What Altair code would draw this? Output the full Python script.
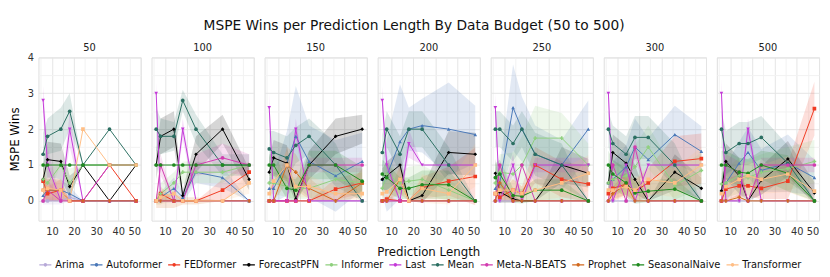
import altair as alt
import pandas as pd

pred_lengths = [6, 8, 14, 18, 24, 36, 48]
budgets = [50, 100, 150, 200, 250, 300, 500]
models = ["Arima", "Autoformer", "FEDformer", "ForecastPFN", "Informer", "Last",
          "Mean", "Meta-N-BEATS", "Prophet", "SeasonalNaive", "Transformer"]
colors = ["#b7a9d8", "#4a78b8", "#f03a22", "#000000", "#8fd07e", "#c43ad8",
          "#2b6f62", "#d23cb0", "#d2691e", "#1f8a1f", "#ffbe85"]
shapes = ["circle", "triangle-up", "square", "diamond", "cross", "triangle-down",
          "circle", "circle", "cross", "circle", "square"]

# mean MSPE wins per model, one list per prediction length order above
mean_50 = {
    "Arima": [0, 0, 0, 0.1, 0, 0, 0],
    "Autoformer": [0.15, 0.3, 0.3, 0.2, 0, 0, 0],
    "FEDformer": [0.55, 0.2, 0.3, 0, 0, 1, 0],
    "ForecastPFN": [0.6, 1.15, 1.1, 0.4, 1, 0, 1],
    "Informer": [0.6, 0.5, 1, 0.5, 1, 1, 1],
    "Last": [2.8, 1, 0, 2, 0, 1, 1],
    "Mean": [1.3, 1.8, 2, 2.5, 1, 2, 1],
    "Meta-N-BEATS": [0, 0.3, 0, 0, 0, 0, 0],
    "Prophet": [0.3, 0.3, 0.3, 0, 0, 0, 0],
    "SeasonalNaive": [1, 1, 1, 1, 1, 1, 1],
    "Transformer": [0.3, 0.35, 0.3, 0, 2, 1, 1],
}
ci_50 = {
    "Arima": [0.1, 0.1, 0.1, 0.1, 0, 0, 0],
    "Autoformer": [0.2, 0.3, 0.3, 0.2, 0, 0, 0],
    "FEDformer": [0.4, 0.2, 0.3, 0, 0, 0, 0],
    "ForecastPFN": [0.4, 0.5, 0.5, 0.3, 0, 0, 0],
    "Informer": [0.5, 0.4, 0, 0.4, 0, 0, 0],
    "Last": [0.4, 0.5, 0, 0.5, 0, 0, 0],
    "Mean": [0.6, 0.5, 0.6, 0.5, 0, 0, 0],
    "Meta-N-BEATS": [0, 0.3, 0, 0, 0, 0, 0],
    "Prophet": [0.3, 0.3, 0.3, 0, 0, 0, 0],
    "SeasonalNaive": [0, 0, 0, 0, 0, 0, 0],
    "Transformer": [0.3, 0.3, 0.3, 0, 0, 0, 0],
}
mean_100 = {
    "Arima": [0, 0, 0, 0, 0, 0, 0],
    "Autoformer": [0, 0.1, 0.35, 0.1, 0.8, 0.65, 0],
    "FEDformer": [0, 0.2, 0, 0, 0, 0.3, 0.8],
    "ForecastPFN": [1, 1.8, 2, 0.15, 1.3, 2, 0.6],
    "Informer": [0, 0.2, 0.5, 0.8, 0.8, 0.8, 1],
    "Last": [3, 0, 0, 2, 0, 0, 0],
    "Mean": [2, 1.8, 1.8, 2.8, 2, 1, 1],
    "Meta-N-BEATS": [0, 1, 0, 0, 1, 1.2, 1],
    "Prophet": [0, 0, 0, 0, 0, 0, 0],
    "SeasonalNaive": [1, 1, 1, 1, 1, 1, 1],
    "Transformer": [0, 0.1, 0.2, 0, 0, 0, 0.5],
}
ci_100 = {
    "Arima": [0.05, 0.05, 0.05, 0.05, 0, 0, 0],
    "Autoformer": [0, 0.15, 0.3, 0.15, 0.3, 0.3, 0],
    "FEDformer": [0, 0.2, 0, 0, 0, 0.3, 0.3],
    "ForecastPFN": [0.4, 0.5, 0.5, 0.15, 0.5, 0.4, 0.3],
    "Informer": [0.1, 0.3, 0.3, 0.3, 0.3, 0.3, 0],
    "Last": [0.3, 0, 0, 0.3, 0, 0, 0],
    "Mean": [0.6, 0.5, 0.4, 0.3, 0.4, 0.3, 0.3],
    "Meta-N-BEATS": [0, 0.3, 0, 0, 0.3, 0.4, 0.3],
    "Prophet": [0.2, 0.2, 0.2, 0.1, 0.1, 0, 0],
    "SeasonalNaive": [0, 0, 0, 0, 0, 0, 0],
    "Transformer": [0.1, 0.2, 0.2, 0, 0, 0, 0.3],
}
mean_150 = {
    "Arima": [0, 0, 0, 0, 0, 0, 0],
    "Autoformer": [0.35, 0.35, 1.05, 1.8, 1.1, 0.7, 1.1],
    "FEDformer": [0, 0, 0, 0, 0, 0.33, 0.5],
    "ForecastPFN": [0.8, 1.2, 1.05, 0.05, 1, 1.8, 2],
    "Informer": [0.5, 0.5, 0.4, 0.35, 0.35, 0.6, 0.5],
    "Last": [2.6, 0, 0, 2, 0, 0, 0],
    "Mean": [1.45, 1.35, 1.2, 1.55, 1.8, 1, 0],
    "Meta-N-BEATS": [0, 0, 0, 0, 1, 1, 1],
    "Prophet": [0, 0, 1, 0.8, 0.35, 0, 0.5],
    "SeasonalNaive": [1, 1, 0.35, 0.3, 1, 1, 0.55],
    "Transformer": [0.2, 0.55, 1, 0.4, 0.4, 0.2, 0.2],
}
ci_150 = {
    "Arima": [0, 0, 0, 0, 0, 0, 0],
    "Autoformer": [0.3, 0.4, 0.9, 1.4, 1.0, 1.0, 0.8],
    "FEDformer": [0, 0, 0, 0, 0, 0.3, 0.3],
    "ForecastPFN": [0.4, 0.5, 0.5, 0.1, 0.4, 0.5, 0.4],
    "Informer": [0.3, 0.3, 0.3, 0.3, 0.3, 0.4, 0.4],
    "Last": [0.4, 0, 0, 0.3, 0, 0, 0],
    "Mean": [0.5, 0.6, 0.6, 0.5, 0.5, 0.6, 0],
    "Meta-N-BEATS": [0, 0, 0, 0, 0.2, 0.2, 0.2],
    "Prophet": [0, 0, 0.5, 0.5, 0.3, 0, 0.4],
    "SeasonalNaive": [0.3, 0.3, 0.3, 0.3, 0.4, 0.4, 0.4],
    "Transformer": [0.2, 0.3, 0.4, 0.3, 0.3, 0.2, 0.2],
}
mean_200 = {
    "Arima": [0, 0, 0, 0, 0, 0, 0],
    "Autoformer": [0.6, 0.7, 1.65, 2, 2.1, 2, 1.85],
    "FEDformer": [0, 0.05, 0, 0, 0.37, 0.55, 0.68],
    "ForecastPFN": [0.6, 0.7, 1, 0, 0.15, 1.35, 1.3],
    "Informer": [0.35, 0.75, 0.5, 0.55, 0.6, 0.3, 0],
    "Last": [2.8, 1, 0, 1.6, 1, 1, 1],
    "Mean": [1.35, 2, 1.3, 2, 2, 1, 0],
    "Meta-N-BEATS": [0, 0, 0, 0, 0, 0, 0],
    "Prophet": [0, 0, 0.6, 0, 0, 0, 0],
    "SeasonalNaive": [0.75, 0.65, 0.35, 0.35, 0.45, 0.45, 0],
    "Transformer": [0.2, 0.25, 0.6, 0, 0.35, 0.2, 1],
}
ci_200 = {
    "Arima": [0, 0, 0, 0, 0, 0, 0],
    "Autoformer": [0.4, 1.0, 1.6, 0.6, 0.75, 1.3, 0.8],
    "FEDformer": [0, 0.1, 0, 0, 0.3, 0.4, 0.8],
    "ForecastPFN": [0.3, 0.4, 0.4, 0, 0.2, 0.6, 0.6],
    "Informer": [0.3, 0.4, 0.3, 0.4, 0.4, 0.3, 0],
    "Last": [0.4, 0.3, 0, 0.4, 0, 0, 0],
    "Mean": [0.5, 0.5, 0.5, 0.5, 0.5, 0.5, 0],
    "Meta-N-BEATS": [0, 0, 0, 0, 0, 0, 0],
    "Prophet": [0, 0, 0.4, 0, 0, 0, 0],
    "SeasonalNaive": [0.4, 0.4, 0.3, 0.3, 0.4, 0.4, 0],
    "Transformer": [0.2, 0.3, 0.4, 0, 0.4, 0.3, 0.6],
}
mean_250 = {
    "Arima": [0, 0, 0, 0, 0, 0, 0],
    "Autoformer": [0.35, 0.5, 2.6, 2, 1.3, 1, 2],
    "FEDformer": [0.2, 0.1, 0.3, 0.2, 1, 0.6, 0.47],
    "ForecastPFN": [0.77, 0.25, 0.05, 0, 0, 1, 0.77],
    "Informer": [0.5, 0.8, 0.75, 1, 1.75, 1.75, 1],
    "Last": [2.6, 0, 1, 0, 1, 1, 1],
    "Mean": [2, 2, 1.6, 2, 1.3, 1, 0],
    "Meta-N-BEATS": [0, 1, 0, 1, 0, 0, 0],
    "Prophet": [0, 0.5, 0, 0, 0, 0, 0],
    "SeasonalNaive": [0.65, 0.75, 0.15, 0.13, 0.3, 0.3, 0],
    "Transformer": [0.2, 0.3, 0.3, 0.2, 0.3, 0.5, 0.77],
}
ci_250 = {
    "Arima": [0, 0, 0, 0, 0, 0, 0],
    "Autoformer": [0.3, 0.5, 1.2, 0.9, 0.8, 0.7, 0.8],
    "FEDformer": [0.2, 0.1, 0.3, 0.2, 0.5, 0.5, 0.5],
    "ForecastPFN": [0.4, 0.3, 0.1, 0, 0, 0.5, 0.4],
    "Informer": [0.4, 0.5, 0.6, 0.8, 0.9, 0.7, 0.6],
    "Last": [0.4, 0, 0.3, 0, 0.2, 0.2, 0.2],
    "Mean": [0.5, 0.5, 0.5, 0.5, 0.6, 0.6, 0],
    "Meta-N-BEATS": [0, 0, 0, 0, 0, 0, 0],
    "Prophet": [0, 0.3, 0, 0, 0, 0, 0],
    "SeasonalNaive": [0.4, 0.4, 0.2, 0.2, 0.3, 0.3, 0],
    "Transformer": [0.2, 0.3, 0.3, 0.2, 0.3, 0.4, 0.5],
}
mean_300 = {
    "Arima": [0, 0, 0, 0, 0, 0, 0],
    "Autoformer": [0.5, 0.6, 0.95, 1.5, 1.15, 1.85, 1.38],
    "FEDformer": [0.2, 0.35, 0.47, 0.27, 0.5, 1.1, 1.18],
    "ForecastPFN": [0.5, 1.35, 1.05, 0.6, 0, 0.8, 0.35],
    "Informer": [0.5, 0.6, 0.7, 0.95, 1.5, 0.43, 0.85],
    "Last": [3, 0, 1, 0, 1, 1, 1],
    "Mean": [2, 1.6, 1.3, 1.77, 1.77, 1, 0],
    "Meta-N-BEATS": [0, 1, 0, 1.5, 0, 0, 0],
    "Prophet": [0, 0.2, 0.47, 0, 0, 0, 0],
    "SeasonalNaive": [1, 0.75, 0.5, 0.22, 0.27, 0.33, 0],
    "Transformer": [0.3, 0.3, 0.4, 0.3, 0.6, 0.5, 1],
}
ci_300 = {
    "Arima": [0, 0, 0, 0, 0, 0, 0],
    "Autoformer": [0.3, 0.5, 0.6, 0.8, 0.6, 0.8, 0.7],
    "FEDformer": [0.2, 0.3, 0.3, 0.3, 0.4, 0.7, 0.7],
    "ForecastPFN": [0.3, 0.5, 0.5, 0.4, 0, 0.5, 0.3],
    "Informer": [0.3, 0.4, 0.5, 0.6, 0.6, 0.4, 0.5],
    "Last": [0.4, 0, 0.2, 0, 0, 0, 0],
    "Mean": [0.5, 0.5, 0.5, 0.6, 0.6, 0.6, 0],
    "Meta-N-BEATS": [0, 0, 0, 0.3, 0, 0, 0],
    "Prophet": [0, 0.2, 0.3, 0, 0, 0, 0],
    "SeasonalNaive": [0.4, 0.4, 0.4, 0.3, 0.3, 0.3, 0],
    "Transformer": [0.3, 0.3, 0.3, 0.3, 0.4, 0.4, 0.5],
}
mean_500 = {
    "Arima": [0, 0, 0, 0, 0, 0, 0],
    "Autoformer": [0.3, 0.5, 1.05, 1.35, 0.85, 1.05, 0.65],
    "FEDformer": [0, 0.33, 0.42, 0.42, 0.35, 0.55, 2.57],
    "ForecastPFN": [0.28, 1.1, 0.7, 0, 0.57, 1.17, 0.22],
    "Informer": [0.47, 0.5, 0.7, 0.65, 0.8, 0.9, 1.1],
    "Last": [3, 0, 0, 2, 0, 0, 0],
    "Mean": [2, 1.35, 1.6, 1.6, 1.77, 1.05, 0],
    "Meta-N-BEATS": [0, 1, 0.8, 0, 1, 1, 1],
    "Prophet": [0, 0, 0.1, 0, 0, 0, 0],
    "SeasonalNaive": [1, 1, 0.8, 0.77, 1, 0.77, 0],
    "Transformer": [0.2, 0.4, 0.6, 0.7, 0.6, 0.75, 0.27],
}
ci_500 = {
    "Arima": [0, 0, 0, 0, 0, 0, 0],
    "Autoformer": [0.3, 0.5, 0.6, 0.7, 0.6, 0.8, 0.5],
    "FEDformer": [0, 0.3, 0.3, 0.3, 0.3, 0.5, 0.75],
    "ForecastPFN": [0.3, 0.5, 0.5, 0, 0.4, 0.5, 0.3],
    "Informer": [0.3, 0.4, 0.5, 0.5, 0.5, 0.6, 0.6],
    "Last": [0.4, 0, 0, 0.3, 0, 0, 0],
    "Mean": [0.5, 0.6, 0.6, 0.6, 0.6, 0.5, 0],
    "Meta-N-BEATS": [0, 0.3, 0.3, 0, 0.2, 0.2, 0.2],
    "Prophet": [0, 0, 0.1, 0, 0, 0, 0],
    "SeasonalNaive": [0.4, 0.4, 0.4, 0.4, 0.4, 0.5, 0],
    "Transformer": [0.2, 0.3, 0.4, 0.4, 0.4, 0.5, 0.3],
}

means = {50: mean_50, 100: mean_100, 150: mean_150, 200: mean_200,
         250: mean_250, 300: mean_300, 500: mean_500}
cis = {50: ci_50, 100: ci_100, 150: ci_150, 200: ci_200,
       250: ci_250, 300: ci_300, 500: ci_500}

rows = []
for b in budgets:
    for k, m in enumerate(models):
        mu = means[b][m]
        c = cis[b][m]
        for i, x in enumerate(pred_lengths):
            rows.append({"budget": b, "model": m, "band_model": m, "order": k,
                         "x": x, "mean": mu[i], "lo": mu[i] - c[i], "hi": mu[i] + c[i]})
df = pd.DataFrame(rows)

FONT = "DejaVu Sans"
W, H = 104, 166
xscale = alt.Scale(domain=[3.9, 50.1], nice=False, zero=False)
yscale = alt.Scale(domain=[-0.55, 4.0], nice=False, zero=False)
cscale = alt.Scale(domain=models, range=colors)
# scales without explicit domain (models are already in sorted order)
band_scale = alt.Scale(range=colors)
sscale = alt.Scale(range=shapes)

grid_major = "#e4e4e4"
grid_minor = "#f2f2f2"

xaxis = alt.Axis(
    title=None, values=[5, 10, 15, 20, 25, 30, 35, 40, 45, 50], format="d",
    labelExpr="datum.value % 10 === 0 ? datum.label : ''",
    gridColor={"condition": {"test": "datum.value % 10 === 0", "value": grid_major},
               "value": grid_minor},
    domain=False, ticks=False, labelFontSize=10, labelColor="#333333",
    labelPadding=5, labelFont=FONT,
)
yaxis = alt.Axis(
    title="MSPE Wins", values=[0, 0.5, 1, 1.5, 2, 2.5, 3, 3.5, 4], format=".0f",
    labelExpr="datum.value % 1 === 0 ? datum.label : ''",
    gridColor={"condition": {"test": "datum.value % 1 === 0", "value": grid_major},
               "value": grid_minor},
    domain=False, ticks=False, labelFontSize=10, labelColor="#333333",
    titleFontSize=12, titleFontWeight="normal", titleFont=FONT, labelFont=FONT,
    labelPadding=4, titlePadding=6,
)

legend_symbol = ("M-1,0L1,0M-0.2,0A0.2,0.2,0,1,1,0.2,0"
                 "A0.2,0.2,0,1,1,-0.2,0Z")
legend = alt.Legend(
    title=None, orient="bottom", direction="horizontal", columns=11,
    symbolType=legend_symbol, symbolSize=150, symbolStrokeWidth=1.2,
    labelFontSize=10, labelFont=FONT, labelColor="#111111",
    labelOffset=3, columnPadding=3, offset=0,
)

band = alt.Chart().mark_area(opacity=0.16, clip=True).encode(
    x=alt.X("x:Q", scale=xscale, axis=xaxis),
    y=alt.Y("lo:Q", scale=yscale, axis=yaxis),
    y2="hi:Q",
    color=alt.Color("band_model:N", scale=band_scale, legend=None),
    order="order:Q",
).properties(width=W, height=H)

line = alt.Chart().mark_line(strokeWidth=1.0, clip=True).encode(
    x=alt.X("x:Q", scale=xscale, axis=xaxis),
    y=alt.Y("mean:Q", scale=yscale, axis=yaxis),
    stroke=alt.Stroke("model:N", scale=cscale, legend=legend),
    order="x:Q",
    detail="model:N",
)

pts = alt.Chart().mark_point(filled=True, size=14, opacity=1, clip=True).encode(
    x=alt.X("x:Q", scale=xscale, axis=xaxis),
    y=alt.Y("mean:Q", scale=yscale, axis=yaxis),
    fill=alt.Fill("model:N", scale=cscale, legend=legend),
    shape=alt.Shape("band_model:N", scale=sscale, legend=None),
)

chart = alt.layer(band, line, pts, data=df).properties(width=W, height=H).facet(
    column=alt.Column(
        "budget:O", sort=budgets,
        header=alt.Header(
            title="Prediction Length", titleOrient="bottom", labelOrient="top",
            titleFontSize=12, titleFont=FONT, titleFontWeight="normal",
            titleColor="#111111", titlePadding=1,
            labelFontSize=10, labelFont=FONT, labelColor="#222222", labelPadding=4,
        ),
    ),
    spacing=9,
).properties(
    title=alt.TitleParams(
        "MSPE Wins per Prediction Length By Data Budget (50 to 500)",
        fontSize=14, font=FONT, fontWeight="normal", color="#111111",
        anchor="middle", offset=10,
    ),
    padding={"left": 0, "top": 9, "right": 2, "bottom": 0},
).configure_view(stroke=None).configure(font=FONT)

chart.save("out.html", embed_options={"renderer": "svg", "actions": False})
